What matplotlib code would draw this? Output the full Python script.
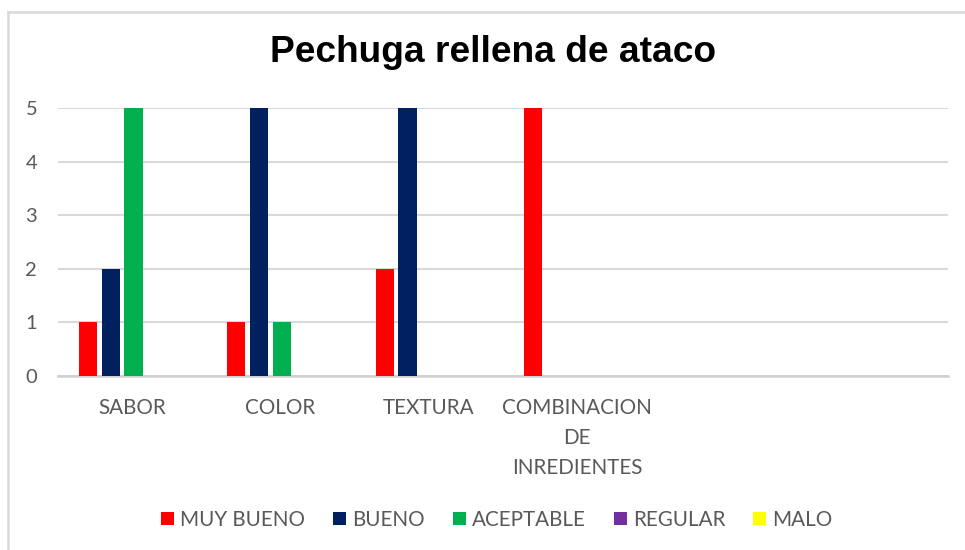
import numpy as np
import matplotlib
matplotlib.use('Agg')
import matplotlib.pyplot as plt
from matplotlib.patches import Patch
from matplotlib.lines import Line2D

# Chart data
categories = ['SABOR', 'COLOR', 'TEXTURA', 'COMBINACION\nDE\nINREDIENTES', '', '']
series_names = ['MUY BUENO', 'BUENO', 'ACEPTABLE', 'REGULAR', 'MALO']
muy_bueno = [1, 1, 2, 5, 0, 0]
bueno = [2, 5, 5, 0, 0, 0]
aceptable = [5, 1, 0, 0, 0, 0]
regular = [0, 0, 0, 0, 0, 0]
malo = [0, 0, 0, 0, 0, 0]
series_colors = ['#FF0000', '#002060', '#00B050', '#7030A0', '#FFFF00']

text_gray = '#595959'
grid_gray = '#D9D9D9'

plt.rcParams['font.family'] = ['Lato', 'DejaVu Sans']

fig = plt.figure(figsize=(9.65, 5.5), dpi=100)
ax = fig.add_axes([58 / 965, 1 - 376 / 550, 890 / 965, 268 / 550])

# Bars for every series, side by side inside each category
x = np.arange(len(categories))
all_values = [muy_bueno, bueno, aceptable, regular, malo]
pitch = 0.153
width = 0.122
for i, (vals, color) in enumerate(zip(all_values, series_colors)):
    ax.bar(x + (i - 2) * pitch + 0.009, vals, width=width, color=color,
           linewidth=0, zorder=3)

ax.set_xlim(-0.5, len(categories) - 0.5)
ax.set_ylim(0, 5)
ax.set_yticks(range(0, 6))
ax.set_xticks(x)
ax.set_xticklabels(categories, linespacing=1.63)

# Gridlines and axis styling (Excel look)
ax.grid(axis='y', color=grid_gray, linewidth=1.5, zorder=0)
for side in ['top', 'right', 'left']:
    ax.spines[side].set_visible(False)
ax.spines['bottom'].set_color('#D0D0D0')
ax.spines['bottom'].set_linewidth(1.8)
ax.tick_params(axis='both', length=0, colors=text_gray)
ax.tick_params(axis='y', labelsize=14.5, pad=15)
ax.tick_params(axis='x', labelsize=14.9, pad=16)
for lab in ax.get_xticklabels():
    lab.set_verticalalignment('top')

# Title
fig.text(493 / 965, 1 - 53 / 550, 'Pechuga rellena de ataco',
         ha='center', va='center', fontsize=26.7, fontweight='bold',
         family='Liberation Sans', color='black')

# Legend with square markers
handles = [Patch(facecolor=c, edgecolor='none') for c in series_colors]
leg = fig.legend(handles, series_names, loc='center', ncol=5,
                 bbox_to_anchor=(497 / 965, 1 - 520 / 550),
                 frameon=False, fontsize=14.9, handlelength=0.62,
                 handleheight=0.62, handletextpad=0.3, columnspacing=1.35)
for t in leg.get_texts():
    t.set_color(text_gray)

# Chart area border (top and left visible)
fig.add_artist(Line2D([7.5 / 965, 1], [1 - 11.5 / 550, 1 - 11.5 / 550],
                      color=grid_gray, linewidth=1.8, transform=fig.transFigure))
fig.add_artist(Line2D([7.5 / 965, 7.5 / 965], [0, 1 - 11.5 / 550],
                      color=grid_gray, linewidth=1.8, transform=fig.transFigure))

fig.savefig('out.png', dpi=100)
